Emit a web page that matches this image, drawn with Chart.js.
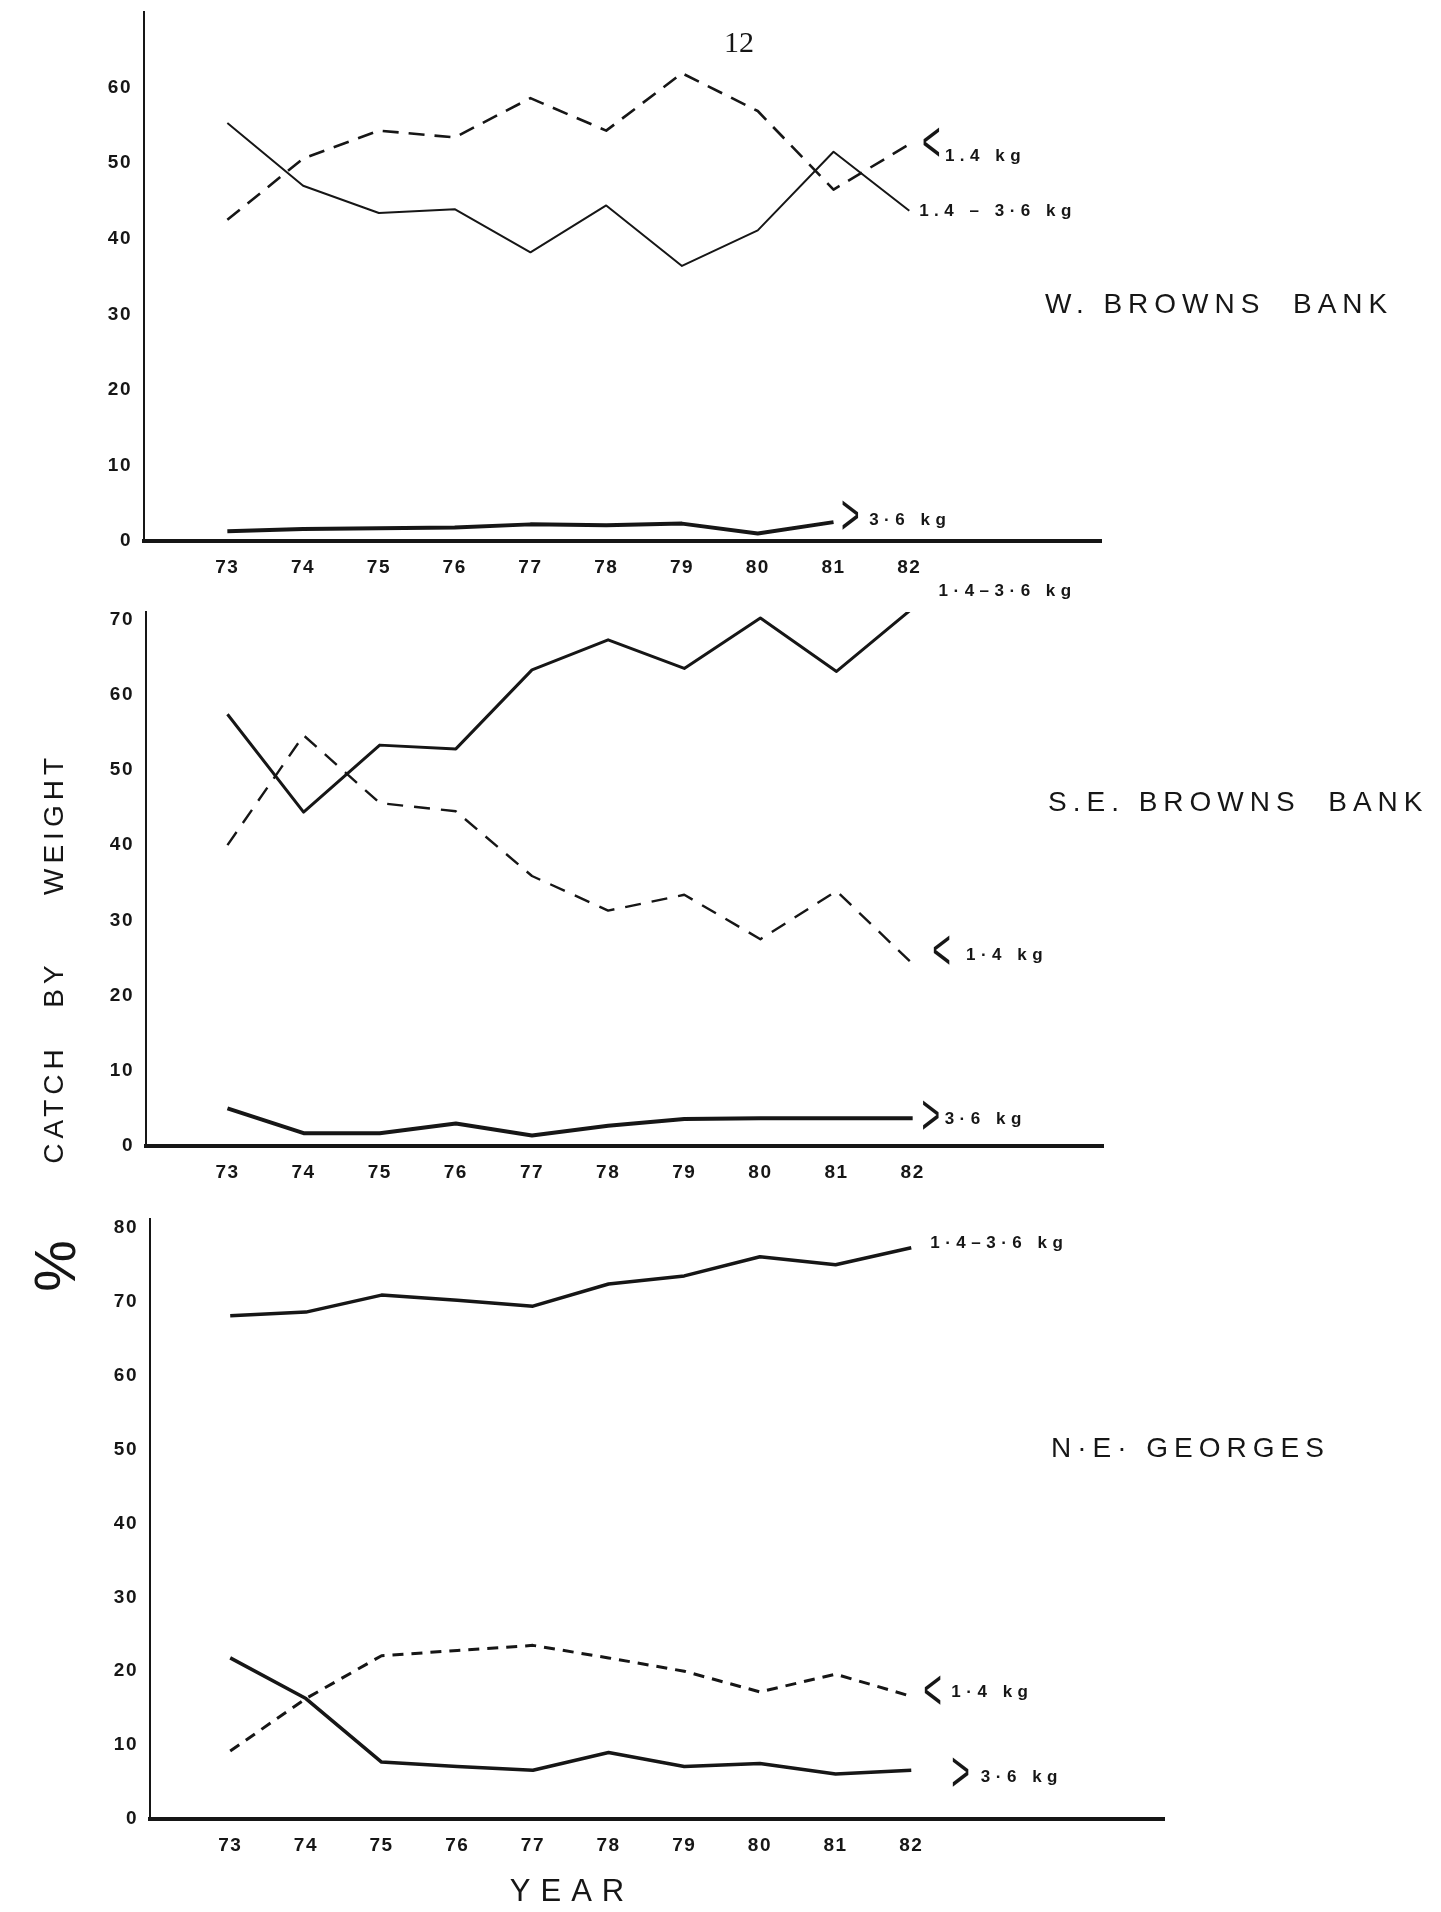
<!DOCTYPE html>
<html>
<head>
<meta charset="utf-8">
<script src="https://cdn.jsdelivr.net/npm/chart.js@4.4.1/dist/chart.umd.min.js"></script>
<style>
html,body{margin:0;padding:0;background:#fff;}
#page{position:relative;width:1441px;height:1912px;overflow:hidden;background:#fff;}
#page canvas{position:absolute;left:0;top:0;}
.t{position:absolute;white-space:pre;color:#161616;font-family:"Liberation Sans",Arial,sans-serif;line-height:1;transform:translate(0,-50%);}
.c{transform:translate(-50%,-50%);}
.rot{transform:translate(-50%,-50%) rotate(-90deg);}
</style>
</head>
<body>
<div id="page">
  <canvas id="c1" width="1441" height="1912"></canvas>
  <canvas id="c2" width="1441" height="1912"></canvas>
  <canvas id="c3" width="1441" height="1912"></canvas>

  <div class="t c" style="left:739px;top:42px;font-family:'Liberation Serif',serif;font-size:30px;">12</div>

  <div class="t" style="left:1045px;top:304px;font-size:28px;letter-spacing:6px;">W. BROWNS  BANK</div>
  <div class="t" style="left:1048px;top:802px;font-size:28px;letter-spacing:6px;">S.E. BROWNS  BANK</div>
  <div class="t" style="left:1051px;top:1448px;font-size:28px;letter-spacing:6px;">N·E· GEORGES</div>

  <div class="t rot" style="left:55px;top:1266px;font-size:58px;">%</div>
  <div class="t rot" style="left:54px;top:1104px;font-size:28px;letter-spacing:5px;">CATCH</div>
  <div class="t rot" style="left:54px;top:984px;font-size:28px;letter-spacing:5px;">BY</div>
  <div class="t rot" style="left:54px;top:824px;font-size:28px;letter-spacing:5px;">WEIGHT</div>

  <div class="t c" style="left:572px;top:1890px;font-size:31px;letter-spacing:10px;">YEAR</div>
</div>

<script>
// ---------------- data ----------------
const years = [73, 74, 75, 76, 77, 78, 79, 80, 81, 82];

// W. Browns Bank
const wbUnder14 = [42.5, 50.6, 54.3, 53.4, 58.6, 54.3, 61.9, 56.9, 46.5, 52.5];
const wbMid     = [55.3, 47.0, 43.4, 43.9, 38.2, 44.4, 36.4, 41.1, 51.5, 43.7];
const wbOver36  = [1.3, 1.6, 1.7, 1.8, 2.2, 2.1, 2.3, 1.0, 2.5, null];
const wbYTicks  = [0, 10, 20, 30, 40, 50, 60];

// S.E. Browns Bank
const seUnder14 = [40.0, 54.6, 45.6, 44.5, 35.9, 31.3, 33.4, 27.5, 33.9, 24.2];
const seMid     = [57.4, 44.4, 53.3, 52.8, 63.3, 67.3, 63.5, 70.2, 63.1, 71.5];
const seOver36  = [5.0, 1.7, 1.7, 3.0, 1.4, 2.7, 3.6, 3.7, 3.7, 3.7];
const seYTicks  = [0, 10, 20, 30, 40, 50, 60, 70];

// N.E. Georges
const neUnder14 = [9.2, 16.3, 22.1, 22.8, 23.5, 21.8, 20.0, 17.2, 19.6, 16.6];
const neMid     = [68.1, 68.6, 70.9, 70.2, 69.4, 72.4, 73.5, 76.1, 75.0, 77.3];
const neOver36  = [21.8, 16.3, 7.7, 7.1, 6.6, 9.0, 7.1, 7.5, 6.1, 6.6];
const neYTicks  = [0, 10, 20, 30, 40, 50, 60, 70, 80];

// ---------------- helpers ----------------
const FONT = '"Liberation Sans", Arial, sans-serif';
const INK = '#161616';
const W = 1441, H = 1912, XH = 50;

function pts(vals) {
  return years.map((yr, i) => ({ x: yr, y: vals[i] }));
}

function ds(vals, width, dash) {
  return {
    data: pts(vals),
    borderColor: INK,
    borderWidth: width,
    borderDash: dash || [],
    borderCapStyle: 'butt',
    borderJoinStyle: 'round',
    pointRadius: 0,
    tension: 0,
    fill: false,
    spanGaps: false
  };
}

function makePanel(id, p) {
  const labels = {
    id: 'seriesLabels_' + id,
    afterDatasetsDraw(chart) {
      const ctx = chart.ctx, xs = chart.scales.x, ys = chart.scales.y;
      p.labels.forEach(it => {
        const px = xs.getPixelForValue(it.x), py = ys.getPixelForValue(it.y);
        ctx.save();
        ctx.fillStyle = INK;
        ctx.textBaseline = 'middle';
        if (it.glyph) {
          ctx.letterSpacing = '0px';
          ctx.font = 'normal 58px ' + FONT;
          ctx.textAlign = 'center';
          ctx.translate(px, py);
          ctx.scale(0.55, 1);
          ctx.fillText(it.text, 0, 0);
        } else {
          ctx.letterSpacing = '5.5px';
          ctx.font = 'bold 17px ' + FONT;
          ctx.textAlign = 'left';
          ctx.fillText(it.text, px, py);
        }
        ctx.restore();
      });
    }
  };
  const spacing = {
    id: 'spacing_' + id,
    beforeDraw(chart) { chart.ctx.letterSpacing = '1.5px'; }
  };
  return new Chart(document.getElementById(id), {
    type: 'line',
    data: { datasets: p.datasets },
    plugins: [spacing, labels],
    options: {
      responsive: false,
      animation: false,
      devicePixelRatio: 1,
      layout: { padding: { left: 0, top: p.top, right: W - p.right, bottom: H - p.bottom - XH } },
      plugins: { legend: { display: false }, tooltip: { enabled: false } },
      scales: {
        x: {
          type: 'linear',
          min: p.xmin, max: p.xmax,
          afterBuildTicks: s => { s.ticks = years.map(v => ({ value: v })); },
          afterFit: s => { s.height = XH; s.paddingLeft = 0; s.paddingRight = 0; },
          grid: { display: false, drawTicks: false },
          border: { display: true, color: INK, width: 4 },
          ticks: {
            color: INK, padding: 15, maxRotation: 0, autoSkip: false,
            font: { family: FONT, size: 19, weight: 'bold' },
            callback: v => String(v)
          }
        },
        y: {
          type: 'linear',
          min: 0, max: p.ymax,
          afterBuildTicks: s => { s.ticks = p.yTicks.map(v => ({ value: v })); },
          afterFit: s => { s.width = p.left; s.paddingTop = 0; s.paddingBottom = 0; },
          grid: { display: false, drawTicks: false },
          border: { display: true, color: INK, width: 2 },
          ticks: {
            color: INK, padding: 12,
            font: { family: FONT, size: 19, weight: 'bold' },
            callback: v => String(v)
          }
        }
      }
    }
  });
}

// ---------------- panels ----------------
makePanel('c1', {
  left: 144, top: 12, right: 1101, bottom: 541,
  xmin: 71.9, xmax: 84.53, ymax: 70, yTicks: wbYTicks,
  datasets: [
    ds(wbUnder14, 2.6, [16, 10]),
    ds(wbMid, 2),
    ds(wbOver36, 4)
  ],
  labels: [
    { x: 82.29, y: 52.4, text: '<', glyph: true },
    { x: 82.47, y: 50.9, text: '1.4 kg' },
    { x: 82.13, y: 43.6, text: '1.4 – 3·6 kg' },
    { x: 81.22, y: 3.0, text: '>', glyph: true },
    { x: 81.47, y: 2.8, text: '3·6 kg' }
  ]
});

makePanel('c2', {
  left: 146, top: 612, right: 1103, bottom: 1146,
  xmin: 71.93, xmax: 84.5, ymax: 71, yTicks: seYTicks,
  datasets: [
    ds(seUnder14, 2.4, [16, 11]),
    ds(seMid, 3),
    ds(seOver36, 4)
  ],
  labels: [
    { x: 82.34, y: 73.8, text: '1·4–3·6 kg' },
    { x: 82.38, y: 25.6, text: '<', glyph: true },
    { x: 82.70, y: 25.4, text: '1·4 kg' },
    { x: 82.24, y: 3.7, text: '>', glyph: true },
    { x: 82.42, y: 3.6, text: '3·6 kg' }
  ]
});

makePanel('c3', {
  left: 150, top: 1219, right: 1164, bottom: 1819,
  xmin: 71.94, xmax: 85.34, ymax: 81.2, yTicks: neYTicks,
  datasets: [
    ds(neMid, 3.5),
    ds(neUnder14, 3, [11, 8]),
    ds(neOver36, 3.5)
  ],
  labels: [
    { x: 82.25, y: 77.9, text: '1·4–3·6 kg' },
    { x: 82.28, y: 17.05, text: '<', glyph: true },
    { x: 82.53, y: 17.2, text: '1·4 kg' },
    { x: 82.65, y: 5.95, text: '>', glyph: true },
    { x: 82.92, y: 5.7, text: '3·6 kg' }
  ]
});
</script>
</body>
</html>
